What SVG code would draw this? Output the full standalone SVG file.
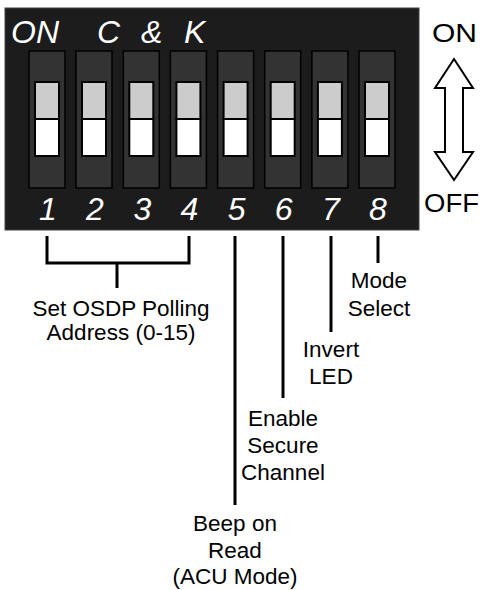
<svg xmlns="http://www.w3.org/2000/svg" width="484" height="590" viewBox="0 0 484 590">
<defs>
<style>
.slot{fill:#333;stroke:#000;stroke-width:1.5}
.tg{fill:#ccc;stroke:#000;stroke-width:2}
.tw{fill:#fff;stroke:#000;stroke-width:2}
.wt{font-family:"Liberation Sans",Arial,sans-serif;font-style:italic;fill:#fff;font-size:32px}
.num{font-family:"Liberation Sans",Arial,sans-serif;font-style:italic;fill:#fff;font-size:32px;text-anchor:middle}
.lbl{font-family:"Liberation Sans",Arial,sans-serif;fill:#000;font-size:22.5px;text-anchor:middle}
.side{font-family:"Liberation Sans",Arial,sans-serif;fill:#000;font-size:25px}
.ln{stroke:#000;stroke-width:3;fill:none}
</style>
</defs>
<rect width="484" height="590" fill="#fff"/>
<g id="panel">
<rect x="5" y="8" width="414" height="222" fill="#1c1c1c" stroke="#444" stroke-width="1"/>
<text class="wt" x="11" y="43">ON</text>
<text class="wt" x="97" y="43">C</text>
<text class="wt" x="141" y="43">&amp;</text>
<text class="wt" x="184" y="43">K</text>
</g>
<g id="switch1"><rect class="slot" x="29" y="51" width="36" height="137"/><rect class="tg" x="35" y="82" width="24" height="37"/><rect class="tw" x="35" y="119" width="24" height="37"/><text class="num" x="48" y="220">1</text></g>
<g id="switch2"><rect class="slot" x="76" y="51" width="36" height="137"/><rect class="tg" x="82" y="82" width="24" height="37"/><rect class="tw" x="82" y="119" width="24" height="37"/><text class="num" x="95" y="220">2</text></g>
<g id="switch3"><rect class="slot" x="123.3" y="51" width="36" height="137"/><rect class="tg" x="129.3" y="82" width="24" height="37"/><rect class="tw" x="129.3" y="119" width="24" height="37"/><text class="num" x="142.3" y="220">3</text></g>
<g id="switch4"><rect class="slot" x="170.4" y="51" width="36" height="137"/><rect class="tg" x="176.4" y="82" width="24" height="37"/><rect class="tw" x="176.4" y="119" width="24" height="37"/><text class="num" x="189.4" y="220">4</text></g>
<g id="switch5"><rect class="slot" x="217.6" y="51" width="36" height="137"/><rect class="tg" x="223.6" y="82" width="24" height="37"/><rect class="tw" x="223.6" y="119" width="24" height="37"/><text class="num" x="236.6" y="220">5</text></g>
<g id="switch6"><rect class="slot" x="264.7" y="51" width="36" height="137"/><rect class="tg" x="270.7" y="82" width="24" height="37"/><rect class="tw" x="270.7" y="119" width="24" height="37"/><text class="num" x="283.7" y="220">6</text></g>
<g id="switch7"><rect class="slot" x="311.9" y="51" width="36" height="137"/><rect class="tg" x="317.9" y="82" width="24" height="37"/><rect class="tw" x="317.9" y="119" width="24" height="37"/><text class="num" x="330.9" y="220">7</text></g>
<g id="switch8"><rect class="slot" x="359" y="51" width="36" height="137"/><rect class="tg" x="365" y="82" width="24" height="37"/><rect class="tw" x="365" y="119" width="24" height="37"/><text class="num" x="378" y="220">8</text></g>
<g id="onoff">
<text class="side" x="432" y="42" textLength="45" lengthAdjust="spacingAndGlyphs">ON</text>
<text class="side" x="424" y="212" textLength="55" lengthAdjust="spacingAndGlyphs">OFF</text>
<path d="M454,59 L473,88 L463,88 L463,152 L473,152 L454,180 L435,152 L445,152 L445,88 L435,88 Z" fill="#fff" stroke="#000" stroke-width="2" stroke-linejoin="miter"/>
</g>
<g id="connectors">
<path class="ln" d="M47,236 V263 H189 V236 M117,263 V288"/>
<path class="ln" d="M235,236 V505"/>
<path class="ln" d="M283,236 V398"/>
<path class="ln" d="M331,236 V332"/>
<path class="ln" d="M378,236 V263"/>
</g>
<g id="label-address"><text class="lbl" x="121" y="316">Set OSDP Polling</text><text class="lbl" x="121" y="340">Address (0-15)</text></g>
<g id="label-mode"><text class="lbl" x="379" y="288">Mode</text><text class="lbl" x="379" y="316">Select</text></g>
<g id="label-invert"><text class="lbl" x="331" y="357">Invert</text><text class="lbl" x="331" y="384">LED</text></g>
<g id="label-secure"><text class="lbl" x="283" y="426">Enable</text><text class="lbl" x="283" y="453">Secure</text><text class="lbl" x="283" y="480">Channel</text></g>
<g id="label-beep"><text class="lbl" x="235" y="531">Beep on</text><text class="lbl" x="235" y="558">Read</text><text class="lbl" x="235" y="584">(ACU Mode)</text></g>
</svg>
